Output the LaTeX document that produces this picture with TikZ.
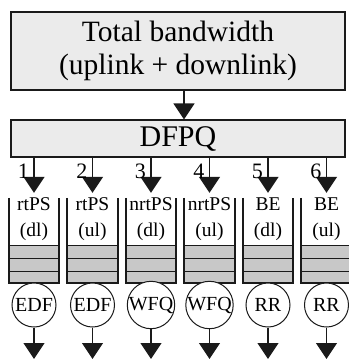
\documentclass[tikz,border=0pt]{standalone}
\usepackage{fontspec}
\setmainfont{Liberation Serif}
\usetikzlibrary{arrows.meta}
\definecolor{boxfill}{HTML}{EBEBEB}
\definecolor{slotfill}{HTML}{C8C8C8}
\definecolor{ink}{HTML}{1A1A1A}
\begin{document}
\begin{tikzpicture}[x=1pt,y=-1pt,
 bigbox/.style={draw=ink, line width=1.2pt, fill=boxfill, minimum width=334pt, inner sep=0pt},
 arr/.style={draw=ink, line width=1.3pt, -{Triangle[width=21pt,length=16pt]}},
 sched/.style={circle, draw=ink, line width=1pt, fill=white, minimum size=44pt, inner sep=0pt, font=\fontsize{20}{22}\selectfont},
 qtext/.style={align=center, font=\fontsize{19.5}{26}\selectfont, inner sep=0pt},
 num/.style={font=\fontsize{22}{24}\selectfont, inner sep=0pt, anchor=east},
 qbox/.style={minimum width=50pt, minimum height=85pt, inner sep=0pt},
 wall/.style={draw=ink, line width=2.2pt},
 slotline/.style={draw=ink, line width=1pt}]
\useasboundingbox (0,0) rectangle (349,360);
\node[bigbox, minimum height=78pt, align=center, font=\fontsize{29.5}{33}\selectfont] (top) at (178,51) {Total bandwidth\\(uplink + downlink)};
\node[bigbox, minimum height=37pt, font=\fontsize{30}{32}\selectfont] (dfpq) at (178,138.5) {DFPQ};
\coordinate (c0) at (184,0);
\draw[arr] (top.south -| c0) -- (dfpq.north -| c0);
\foreach \i/\t/\d/\s in {1/rtPS/dl/EDF, 2/rtPS/ul/EDF, 3/nrtPS/dl/WFQ, 4/nrtPS/ul/WFQ, 5/BE/dl/RR, 6/BE/ul/RR} {
  \pgfmathsetmacro\cx{34+58.5*(\i-1)}
  \node[qbox] (q\i) at (\cx,240.5) {};
  \fill[slotfill] (\cx-25,245) rectangle (\cx+25,283);
  \draw[slotline] (\cx-25,245) -- (\cx+25,245);
  \draw[slotline] (\cx-25,258) -- (\cx+25,258);
  \draw[slotline] (\cx-25,271) -- (\cx+25,271);
  \draw[wall] (q\i.north west) -- (q\i.south west) -- (q\i.south east) -- (q\i.north east);
  \node[qtext] (qt\i) at (\cx,219) {\t\\(\d)};
  \coordinate (ax\i) at (\cx,0);
  \draw[arr, shorten >=5pt] (dfpq.south -| ax\i) -- (q\i.north);
  \node[num] (n\i) at (\cx-5,171) {\i};
  \node[sched] (s\i) at (\cx,305) {\s};
  \coordinate (e\i) at (\cx,359);
  \draw[arr] (s\i.south) -- (e\i);
}
\end{tikzpicture}
\end{document}
